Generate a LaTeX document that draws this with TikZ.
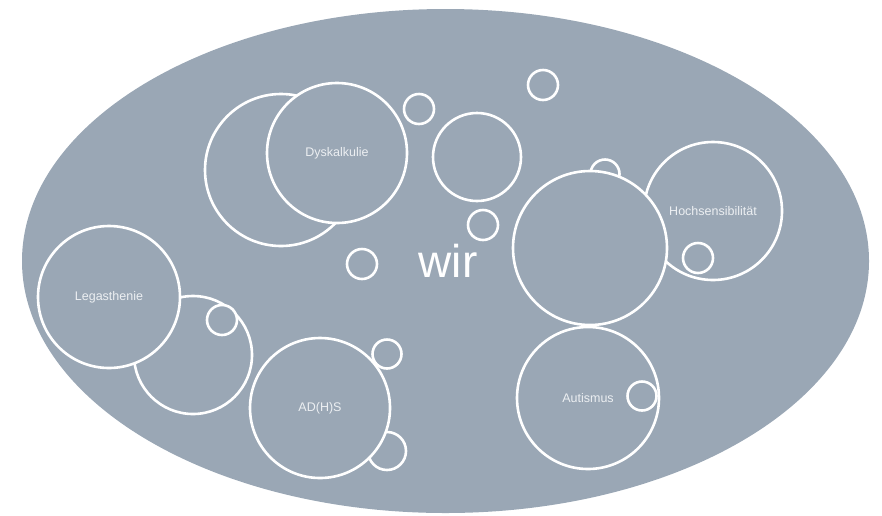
\documentclass[tikz,border=0pt]{standalone}
\usepackage{fontspec}
\setmainfont{Liberation Sans}
\usetikzlibrary{positioning}
\definecolor{wirgrey}{RGB}{154,167,181}
\definecolor{labelwhite}{RGB}{236,239,242}
\tikzset{bubble/.style={circle,draw=white,line width=2.6pt,fill=wirgrey,inner sep=0pt,text=labelwhite,font=\fontsize{12.5}{14}\selectfont}}
\tikzset{big/.style={bubble,minimum size=140pt}}
\tikzset{dot/.style={bubble,minimum size=30pt}}

\begin{document}
\begin{tikzpicture}[x=1pt,y=-1pt]
\useasboundingbox (0,0) rectangle (882,515);

\fill[wirgrey] (445.5,261) ellipse [x radius=423.5pt, y radius=252pt];

\node[bubble,minimum size=152pt] at (281,170) (dysb) {};
\node[big] at (337,153) (dys) {Dyskalkulie};
\node[dot] at (419,109) (d1) {};
\node[bubble,minimum size=88pt] at (477,157) (mid) {};
\node[dot] at (543,85) (d2) {};
\node[dot] at (483,225) (d3) {};
\node[dot] at (362,264) (d4) {};

\node[big,minimum size=138pt] at (713,211) (hoch) {Hochsensibilität};
\node[dot] at (698,258) (h1) {};
\node[dot,minimum size=29pt] at (605,174) (h2) {};
\node[bubble,minimum size=154pt] at (590,248) (hochb) {};

\node[bubble,minimum size=118pt] at (193,355) (legb) {};
\node[dot] at (222,320) (l1) {};
\node[big,minimum size=142pt] at (109,297) (leg) {Legasthenie};

\node[bubble,minimum size=38pt] at (387,451) (a2) {};
\node[big] at (320,408) (adhs) {AD(H)S};
\node[dot,minimum size=29pt] at (387,354) (a1) {};

\node[big,minimum size=142pt] at (588,398) (aut) {Autismus};
\node[dot,minimum size=29pt] at (642,396) (au1) {};

\node[text=white,font=\fontsize{46}{50}\selectfont,anchor=base] at (448,277) (wir) {wir};

\end{tikzpicture}
\end{document}
